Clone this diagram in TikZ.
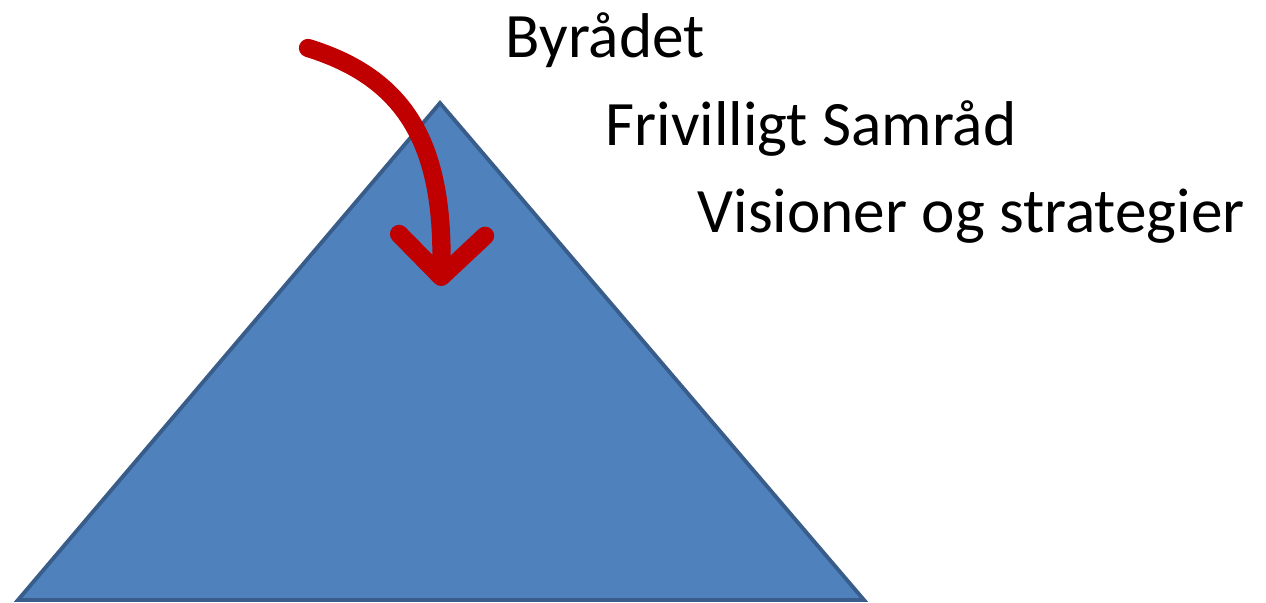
\documentclass[tikz,border=0pt]{standalone}
\usepackage{fontspec}
\setmainfont{Carlito}
\usetikzlibrary{arrows.meta}
\definecolor{piramide}{HTML}{4F81BD}
\definecolor{kant}{HTML}{385D8A}
\definecolor{pil}{HTML}{C00000}
\tikzset{
  niveau/.style={anchor=base west,inner sep=0pt,font=\fontsize{18}{21.6}\selectfont},
  pilstil/.style={draw=pil,line width=5.2pt,line cap=round,
    -{Straight Barb[length=4.2mm,width=8.6mm,line cap=round,line join=round]}}
}
\begin{document}
\begin{tikzpicture}
        \useasboundingbox (0,0) rectangle (12.66,6.03);
        % triangle
        \coordinate (top) at (4.40,5.00);
        \coordinate (vb) at (0.18,0.03);
        \coordinate (hb) at (8.64,0.03);
        \filldraw[fill=piramide,draw=kant,line width=1.1pt] (vb) -- (top) -- (hb) -- cycle;

        % arrow
        \coordinate (start) at (3.08,5.55);
        \coordinate (spids) at (4.41,3.17);
        \draw[pilstil] (start) .. controls (4.05,5.25) and (4.44,4.6) .. (spids);

        % lecter
        \node[niveau] (byraad) at (5.05,5.45) {Byrådet};
        \node[niveau] (samraad) at (6.05,4.57) {Frivilligt Samråd};
        \node[niveau] (visioner) at (6.97,3.70) {Visioner og strategier};
\end{tikzpicture}
\end{document}
